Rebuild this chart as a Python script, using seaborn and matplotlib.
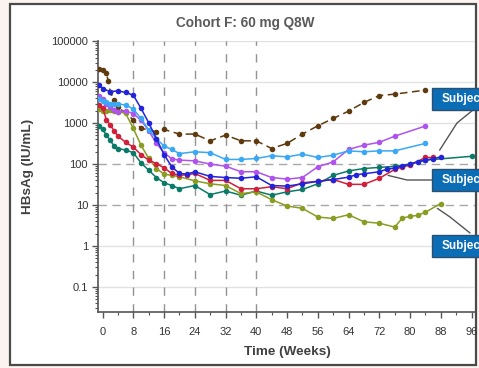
import numpy as np
import pandas as pd
import matplotlib
matplotlib.use("Agg")
import matplotlib.pyplot as plt
import seaborn as sns
from matplotlib.patches import Rectangle
from matplotlib.lines import Line2D
from matplotlib.ticker import FixedLocator, LogLocator, MultipleLocator, NullFormatter

# ---------------- data ----------------
brown_w = [-1, 0, 1, 1.5, 2, 3, 4, 8, 10, 14, 16, 20, 24, 28, 32, 36, 40, 44, 48, 52, 56, 60, 64, 68, 72, 76, 84]
brown_v = [20500, 19500, 16500, 10500, 5800, 3600, 2500, 1200, 750, 615, 700, 540, 540, 370, 510, 370, 370, 240,
           320, 540, 860, 1300, 1960, 3200, 4700, 5100, 6400]

blue_w = [-1, 0, 2, 4, 6, 8, 10, 12, 14, 16, 18, 20, 22, 24, 28, 32, 36, 40, 44, 48, 52, 56, 60, 64, 66, 68, 72,
          74, 76, 78, 80, 82, 84, 86, 88]
blue_v = [8500, 7000, 5850, 6150, 5600, 4800, 2300, 1020, 420, 170, 86, 59, 57, 65, 50, 47, 45, 49, 30, 29, 33,
          38, 42, 48, 55, 58, 65, 75, 80, 90, 100, 115, 125, 135, 150]

lblue_w = [-1, 0, 1, 2, 3, 4, 6, 8, 10, 12, 14, 16, 18, 20, 24, 28, 32, 36, 40, 44, 48, 52, 56, 60, 64, 68, 72, 76, 84]
lblue_v = [3800, 3500, 3200, 3000, 2900, 2900, 2800, 2200, 1300, 670, 420, 275, 228, 180, 200, 190, 130, 130, 137,
           160, 150, 175, 145, 165, 210, 200, 210, 210, 320]

purple_w = [-1, 0, 1, 2, 3, 4, 6, 8, 10, 12, 14, 16, 18, 20, 24, 28, 32, 36, 40, 44, 48, 52, 56, 60, 64, 68, 72, 76, 84]
purple_v = [4500, 3800, 3000, 2500, 2100, 1900, 2000, 1700, 1180, 650, 320, 190, 134, 125, 120, 100, 89, 65, 65,
            47, 43, 47, 86, 113, 228, 290, 340, 480, 850]

red_w = [-1, 0, 1, 2, 3, 4, 6, 8, 10, 12, 14, 16, 18, 20, 22, 24, 28, 32, 36, 40, 44, 48, 52, 56, 60, 64, 68, 72,
         76, 78, 80, 84, 86]
red_v = [2800, 2400, 1200, 900, 650, 480, 340, 260, 170, 125, 103, 81, 59, 53, 55, 59, 40, 40, 25, 25, 28, 25, 35,
         38, 42, 32, 32, 45, 74, 85, 94, 145, 145]

olive_w = [-1, 0, 1, 2, 3, 4, 6, 8, 10, 12, 14, 16, 18, 20, 24, 28, 32, 36, 40, 44, 48, 52, 56, 60, 64, 68, 72, 76,
           78, 80, 82, 84, 88]
olive_v = [2200, 2000, 2000, 2050, 1950, 1900, 1730, 740, 290, 137, 78, 57, 53, 49, 39, 33, 30, 19, 21, 13.5, 9.5,
           8.3, 5.1, 4.7, 5.8, 3.9, 3.6, 2.9, 4.8, 5.3, 5.6, 6.7, 10.9]

teal_w = [-1, 0, 1, 2, 3, 4, 6, 8, 10, 12, 14, 16, 18, 20, 24, 28, 32, 36, 40, 44, 48, 52, 56, 60, 64, 68, 72, 76,
          80, 84, 96]
teal_v = [850, 700, 510, 380, 275, 240, 220, 190, 107, 71, 47, 35, 30, 25, 30, 18, 22, 17.4, 22, 17.4, 21, 24, 33,
          53, 68, 78, 83, 88, 100, 125, 155]

series = [
    ("brown", brown_w, brown_v, "#5e3a0e", True),
    ("teal", teal_w, teal_v, "#0b7a68", False),
    ("olive", olive_w, olive_v, "#8a9c22", False),
    ("red", red_w, red_v, "#d0203a", False),
    ("purple", purple_w, purple_v, "#b052ee", False),
    ("lightblue", lblue_w, lblue_v, "#3aa8f5", False),
    ("blue", blue_w, blue_v, "#2323d8", False),
]

x_ticks = [0, 8, 16, 24, 32, 40, 48, 56, 64, 72, 80, 88, 96]
y_ticks = [0.1, 1, 10, 100, 1000, 10000, 100000]
y_tick_labels = ["0.1", "1", "10", "100", "1000", "10000", "100000"]
solid_grid = [0.1, 1, 1000, 10000, 100000]
dashed_grid = [10, 100]
dose_weeks = [8, 16, 24, 32, 40]

title = "Cohort F: 60 mg Q8W"
xlabel = "Time (Weeks)"
ylabel = "HBsAg (IU/mL)"
label_text = "Subject"
# anchors (week, value) where leader lines start
anchors = [(87.7, 219), (74.3, 53), (87.1, 8.3)]

# ---------------- figure ----------------
sns.set_theme(style="white")
plt.rcParams["font.family"] = ["Liberation Sans", "DejaVu Sans"]

W, H = 479, 368
fig = plt.figure(figsize=(W / 100, H / 100), dpi=100, facecolor="#fbf4ee")
fig.add_artist(Rectangle((10 / W, 1 - 365 / H), 466 / W, 361 / H, transform=fig.transFigure,
                         facecolor="white", edgecolor="#4a4a4a", lw=1.6, zorder=0))

ax = fig.add_axes([97.7 / W, 1 - 312 / H, (475 - 97.7) / W, (312 - 41.2) / H])
ax.patch.set_alpha(0)
ax.set_yscale("log")
ax.set_xlim(-1.27, 96.9)
ax.set_ylim(0.0245, 100000)

for g in solid_grid:
    ax.axhline(g, color="#e2e2e2", lw=1.0, zorder=0.5)
for g in dashed_grid:
    ax.axhline(g, color="#a8a8a8", lw=1.0, ls=(0, (6, 4)), zorder=0.6)
for d in dose_weeks:
    ax.axvline(d, color="#939393", lw=1.0, ls=(0, (6, 6)), zorder=0.6)

for name, w, v, c, dashed in series:
    df = pd.DataFrame({"week": w, "value": v})
    sns.lineplot(data=df, x="week", y="value", ax=ax, color=c, marker="o", markersize=4.0,
                 markeredgewidth=0, linewidth=1.1, errorbar=None,
                 linestyle=(0, (5, 3)) if dashed else "-", zorder=3)

ax.yaxis.set_major_locator(FixedLocator(y_ticks))
ax.set_yticklabels(y_tick_labels)
ax.yaxis.set_minor_locator(LogLocator(base=10, subs=np.arange(2, 10), numticks=20))
ax.yaxis.set_minor_formatter(NullFormatter())
ax.xaxis.set_major_locator(FixedLocator(x_ticks))
ax.set_xticklabels([str(t) for t in x_ticks])
ax.xaxis.set_minor_locator(MultipleLocator(4))

ax.tick_params(axis="both", which="major", direction="out", length=4, width=1, color="#555555",
               labelsize=8, labelcolor="#333333")
ax.tick_params(axis="both", which="minor", direction="out", length=2.5, width=0.8, color="#555555")
ax.tick_params(axis="y", which="both", left=True, pad=3)
ax.tick_params(axis="x", which="both", bottom=True, pad=7)

for s in ["top", "right"]:
    ax.spines[s].set_visible(False)
for s in ["left", "bottom"]:
    ax.spines[s].set_color("#555555")
    ax.spines[s].set_linewidth(1.2)

ax.set_xlabel("")
ax.set_ylabel("")
fig.text(245.5 / W, 1 - 23 / H, title, ha="center", va="center", fontsize=9.8,
         fontweight="bold", color="#5a5a5a")
fig.text(287.5 / W, 1 - 352.5 / H, xlabel, ha="center", va="center", fontsize=9.7,
         fontweight="bold", color="#404040")
fig.text(28 / W, 1 - 166 / H, ylabel, ha="center", va="center", rotation=90, fontsize=9.7,
         fontweight="bold", color="#404040")

# label boxes (top-down pixel layout); the reference shows them running off the right edge
boxes = [(432, 88, 110), (432, 169, 191), (432, 235, 257)]
elbows = [[(457, 123), (473, 110)], [(407, 180), (432, 180)], [(450, 217), (470, 233)]]
for (bx, y0, y1), anc, elb in zip(boxes, anchors, elbows):
    px, py = ax.transData.transform(anc)
    xs = [px] + [e[0] for e in elb]
    ys = [py] + [H - e[1] for e in elb]
    fig.add_artist(Line2D(np.array(xs) / W, np.array(ys) / H, transform=fig.transFigure,
                          color="#555555", lw=1.0, zorder=4))
    fig.add_artist(Rectangle((bx / W, 1 - y1 / H), 60 / W, (y1 - y0) / H, transform=fig.transFigure,
                             facecolor="#0b6db5", edgecolor="#2b4f70", lw=1.0, zorder=5))
    fig.text(442 / W, 1 - (y0 + y1) / 2 / H, label_text, ha="left", va="center", fontsize=8.5,
             fontweight="bold", color="white", zorder=6)

fig.savefig("out.png", dpi=100, facecolor=fig.get_facecolor())
